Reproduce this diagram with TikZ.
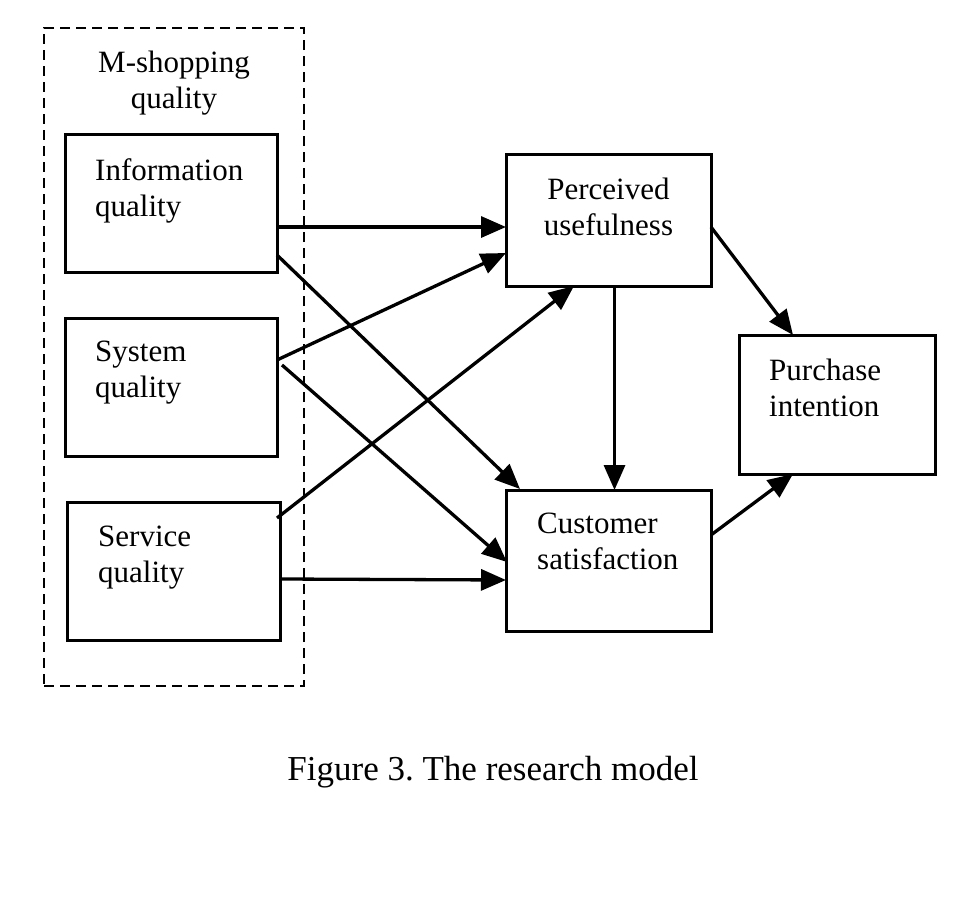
\documentclass[tikz,border=0pt]{standalone}
\usepackage{fontspec}
\setmainfont{Liberation Serif}
\usetikzlibrary{arrows.meta}
\begin{document}
\begin{tikzpicture}[x=1pt,y=-1pt,
  box/.style={draw, line width=3pt, rectangle, inner sep=0pt, outer sep=0pt},
  lbl/.style={inner sep=0pt, align=left, anchor=north west, font=\fontsize{31}{36}\selectfont},
  clbl/.style={inner sep=0pt, align=center, anchor=north, font=\fontsize{31}{36}\selectfont},
  arr/.style={line width=3.3pt, -{Triangle[length=25pt,width=21pt]}}]
\useasboundingbox (0,0) rectangle (959,916);
\node[draw, dash pattern=on 10pt off 6pt, line width=2.6pt, inner sep=0pt,
  minimum width=260pt, minimum height=658pt] (grp) at (174,357) {};
\node[clbl] (grpt) at (174,51) {M-shopping\\quality};
\node[box, minimum width=212pt, minimum height=138pt] (iq) at (171,203) {};
\node[lbl] (iqt) at (95,158) {Information\\quality};
\node[box, minimum width=212pt, minimum height=138pt] (sq) at (171,387) {};
\node[lbl] (sqt) at (95,341) {System\\quality};
\node[box, minimum width=213pt, minimum height=138pt] (svq) at (173.5,571) {};
\node[lbl] (svqt) at (98,526) {Service\\quality};
\node[box, minimum width=205pt, minimum height=132pt] (pu) at (608.5,220) {};
\node[clbl] (put) at (608.5,178) {Perceived\\usefulness};
\node[box, minimum width=205pt, minimum height=141pt] (cs) at (608.5,560.5) {};
\node[lbl] (cst) at (537,513) {Customer\\satisfaction};
\node[box, minimum width=196pt, minimum height=139pt] (pi) at (837,404.5) {};
\node[lbl] (pit) at (769,359) {Purchase\\intention};
\node[inner sep=0pt, font=\fontsize{35}{40}\selectfont] (cap) at (493,772) {Figure 3.\ The research model};
\draw[arr] ([yshift=-24pt]iq.east) -- ([yshift=-7pt]pu.west);
\draw[arr] ([yshift=-52pt]iq.east) -- ([xshift=14pt,yshift=1pt]cs.north west);
\draw[arr] ([yshift=27pt]sq.east) -- ([yshift=-33pt]pu.west);
\draw[arr] ([xshift=5pt,yshift=22pt]sq.east) -- ([xshift=1pt,yshift=-1.5pt]cs.west);
\draw[arr] ([yshift=53pt,xshift=-3pt]svq.east) -- ([xshift=-34.5pt]pu.south);
\draw[arr] ([xshift=2pt,yshift=-8pt]svq.east) -- ([yshift=-19.5pt]cs.west);
\draw[arr] ([xshift=6pt]pu.south) -- ([xshift=6pt]cs.north);
\draw[arr] ([yshift=-7pt]pu.east) -- ([xshift=-44pt]pi.north);
\draw[arr] ([yshift=25.5pt]cs.east) -- ([xshift=-44pt]pi.south);
\end{tikzpicture}
\end{document}
